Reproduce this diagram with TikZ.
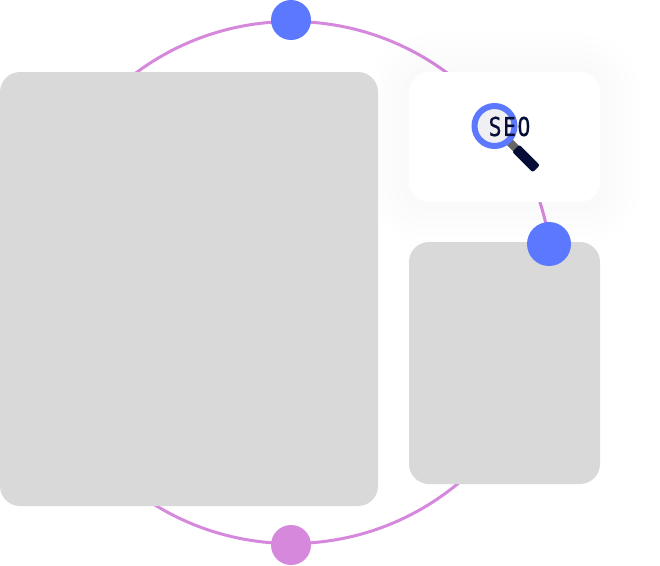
\documentclass[tikz,border=0pt]{standalone}
\usepackage{fontspec}
\newfontfamily\seofont[FakeBold=0.7,LetterSpace=7.5]{DejaVu Sans Mono}
\usepackage{xcolor}
\definecolor{dotblue}{HTML}{5B78FF}
\definecolor{ringpurple}{HTML}{D588DC}
\definecolor{cardgrey}{HTML}{D9D9D9}
\definecolor{seonavy}{HTML}{060E38}
\definecolor{lensgrey}{HTML}{F0F0F3}
\usetikzlibrary{positioning}
\tikzset{
	card/.style={rectangle, rounded corners=20pt, inner sep=0pt, outer sep=0pt},
	dot/.style={circle, inner sep=0pt, outer sep=0pt},
}

\begin{document}
\begin{tikzpicture}[x=1pt, y=-1pt]
	\useasboundingbox (0,0) rectangle (660,565);
	\fill[white] (0,0) rectangle (660,565);

	\node[circle, draw=ringpurple, line width=3pt, minimum size=522pt, inner sep=0pt] (ring) at (291.5,282.5) {};

	\foreach \s in {16,32,...,80} {
		\node[card, fill=black, fill opacity=0.004, minimum width={191pt+\s pt}, minimum height={130pt+\s pt}, rounded corners={20pt+0.5*\s pt}] (glow\s) at (504.5,139) {};
	}
	\node[card, fill=white, minimum width=191pt, minimum height=130pt] (seocard) at (504.5,137) {};
	\node[card, fill=cardgrey, minimum width=378pt, minimum height=434pt] (bigcard) at (189,289) {};
	\node[card, fill=cardgrey, minimum width=191pt, minimum height=242pt] (lowcard) at (504.5,363) {};

	\node[dot, fill=dotblue, minimum size=40pt] (topdot) at (291,20) {};
	\node[dot, fill=dotblue, minimum size=44pt] (sidedot) at (549,244) {};
	\node[dot, fill=ringpurple, minimum size=40pt] (bottomdot) at (291,545) {};

	\node[rectangle, fill=black!60, minimum width=10pt, minimum height=8pt, inner sep=0pt, rotate=-45] (neck) at (512.5,145) {};
	\node[rectangle, rounded corners=2pt, fill=seonavy, minimum width=29pt, minimum height=10pt, inner sep=0pt, rotate=-45] (handle) at (526,158.5) {};
	\node[circle, fill=lensgrey, draw=dotblue, line width=6pt, minimum size=40pt, inner sep=0pt] (lens) at (494.5,126) {};
	\node[font=\seofont\fontsize{26}{26}\selectfont, text=seonavy, xscale=0.82, inner sep=0pt] (seotext) at (509.5,126.5) {SEO};
\end{tikzpicture}
\end{document}
